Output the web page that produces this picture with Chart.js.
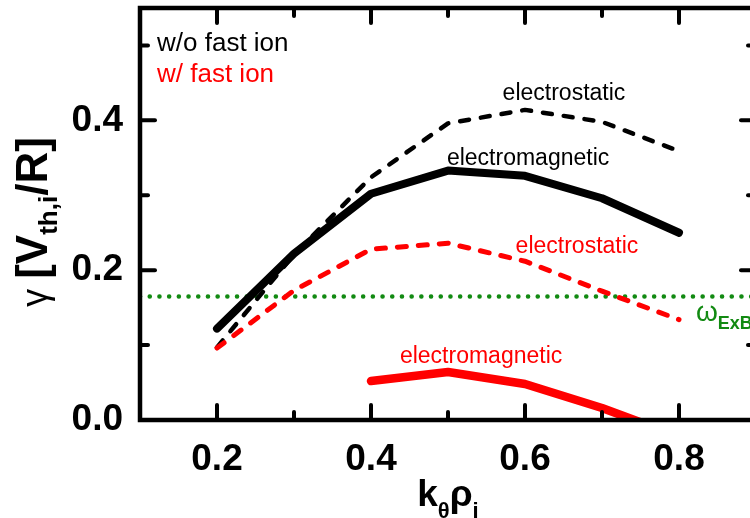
<!DOCTYPE html>
<html>
<head>
<meta charset="utf-8">
<script src="https://cdn.jsdelivr.net/npm/chart.js@4.4.1/dist/chart.umd.min.js"></script>
<style>
  html, body { margin: 0; padding: 0; background: #fff; overflow: hidden; }
  .wrap { width: 750px; height: 518px; overflow: hidden; }
</style>
</head>
<body>
<div class="wrap"><canvas id="growthChart" width="760" height="518"></canvas></div>
<script>
// values
const kRho = [0.2, 0.3, 0.4, 0.5, 0.6, 0.7, 0.8];
const esNoFast = [0.097, 0.221, 0.324, 0.396, 0.414, 0.398, 0.359];
const emNoFast = [0.122, 0.222, 0.302, 0.333, 0.326, 0.296, 0.250];
const esFast = [0.096, 0.173, 0.228, 0.236, 0.212, 0.172, 0.134];
const kRhoEmFast = [0.4, 0.5, 0.6, 0.7, 0.8];
const emFast = [0.052, 0.064, 0.048, 0.016, -0.022];
const exbX = [0.1, 0.9];
const exbY = [0.165, 0.165];

const xMajor = [0.2, 0.4, 0.6, 0.8];
const xMinor = [0.3, 0.5, 0.7];
const yMajor = [0.0, 0.2, 0.4];
const yMinor = [0.1, 0.3, 0.5];

const RED = '#ff0000';
const GREEN = '#128a12';
const FONT = '"Liberation Sans", Arial, sans-serif';

const pts = (xs, ys) => xs.map((x, i) => ({x: x, y: ys[i]}));
const near = (list, v) => list.some(t => Math.abs(t - v) < 1e-6);

// text notes, placed in data units
const notes = [
  {text: 'electrostatic', x: 0.6506, y: 0.4267, color: '#000', align: 'center'},
  {text: 'electromagnetic', x: 0.604, y: 0.341, color: '#000', align: 'center'},
  {text: 'electrostatic', x: 0.6675, y: 0.2227, color: RED, align: 'center'},
  {text: 'electromagnetic', x: 0.543, y: 0.076, color: RED, align: 'center'},
  {text: 'w/o fast ion', x: 0.1221, y: 0.493, color: '#000', align: 'left', size: 26},
  {text: 'w/ fast ion', x: 0.1221, y: 0.4507, color: RED, align: 'left', size: 26}
];

// measure a run of text pieces (some subscripted)
function measureRich(ctx, segs) {
  let total = 0;
  segs.forEach(s => { ctx.font = s.font; s.w = ctx.measureText(s.t).width + (s.gap || 0); total += s.w; });
  return total;
}

const framePlugin = {
  id: 'frame',
  afterDraw(chart) {
    const ctx = chart.ctx;
    const a = chart.chartArea;
    const xs = chart.scales.x, ys = chart.scales.y;
    ctx.save();
    ctx.setTransform(1, 0, 0, 1, 0, 0);
    ctx.strokeStyle = '#000';
    ctx.lineCap = 'round';
    ctx.lineWidth = 4;
    // ticks pointing inward on all four sides
    const tick = (x1, y1, x2, y2) => { ctx.beginPath(); ctx.moveTo(x1, y1); ctx.lineTo(x2, y2); ctx.stroke(); };
    xMajor.concat(xMinor).forEach(v => {
      const px = xs.getPixelForValue(v);
      const len = near(xMajor, v) ? 15 : 8;
      tick(px, a.bottom, px, a.bottom - len);
      tick(px, a.top, px, a.top + len);
    });
    yMajor.concat(yMinor).forEach(v => {
      const py = ys.getPixelForValue(v);
      const len = near(yMajor, v) ? 15 : 8;
      tick(a.left, py, a.left + len, py);
      tick(a.right, py, a.right - len, py);
    });
    ctx.lineWidth = 4.5;
    ctx.lineCap = 'butt';
    ctx.strokeRect(a.left, a.top, a.right - a.left, a.bottom - a.top);

    // notes
    ctx.textBaseline = 'alphabetic';
    notes.forEach(n => {
      ctx.fillStyle = n.color;
      ctx.textAlign = n.align;
      ctx.font = (n.size || 23) + 'px ' + FONT;
      ctx.fillText(n.text, xs.getPixelForValue(n.x), ys.getPixelForValue(n.y));
    });
    // omega ExB label
    ctx.fillStyle = GREEN;
    ctx.textAlign = 'left';
    const ox = xs.getPixelForValue(0.822), oy = ys.getPixelForValue(0.132);
    ctx.font = '28px ' + FONT;
    ctx.fillText('ω', ox, oy);
    const ow = ctx.measureText('ω').width;
    ctx.font = 'bold 18px ' + FONT;
    ctx.fillText('ExB', ox + ow, oy + 8);

    // x axis title
    ctx.fillStyle = '#000';
    ctx.textAlign = 'left';
    const xt = [
      {t: 'k', font: 'bold 37px ' + FONT},
      {t: 'θ', font: 'bold 22px ' + FONT, dy: 12},
      {t: 'ρ', font: 'bold 37px ' + FONT},
      {t: 'i', font: 'bold 22px ' + FONT, dy: 12}
    ];
    let cx = (a.left + a.right) / 2 - measureRich(ctx, xt) / 2;
    xt.forEach(s => {
      ctx.font = s.font;
      ctx.fillText(s.t, cx, 506 + (s.dy || 0));
      cx += s.w;
    });

    // y axis title, reading bottom to top
    const yt = [
      {t: 'γ', font: '36px ' + FONT, gap: 10},
      {t: '[V', font: 'bold 44px ' + FONT},
      {t: 'th,i', font: 'bold 26px ' + FONT, dy: 10},
      {t: '/R]', font: 'bold 44px ' + FONT}
    ];
    let cy = 222 + measureRich(ctx, yt) / 2;
    yt.forEach(s => {
      ctx.save();
      ctx.translate(47 + (s.dy || 0), cy);
      ctx.rotate(-Math.PI / 2);
      ctx.font = s.font;
      ctx.fillText(s.t, 0, 0);
      ctx.restore();
      cy -= s.w;
    });
    ctx.restore();
  }
};

const lineSet = (data, color, width, dash, order) => ({
  data: data,
  borderColor: color,
  backgroundColor: color,
  borderWidth: width,
  borderDash: dash,
  borderCapStyle: 'round',
  borderJoinStyle: 'round',
  pointRadius: 0,
  fill: false,
  tension: 0,
  clip: 0,
  order: order
});

new Chart(document.getElementById('growthChart'), {
  type: 'line',
  data: {
    datasets: [
      lineSet(pts(kRhoEmFast, emFast), RED, 8.5, [], 1),
      lineSet(pts(kRho, esFast), RED, 5, [9, 12], 2),
      lineSet(pts(kRho, emNoFast), '#000', 8, [], 3),
      lineSet(pts(kRho, esNoFast), '#000', 4.5, [9, 12], 4),
      lineSet(pts(exbX, exbY), GREEN, 4.5, [0.1, 9.6], 5)
    ]
  },
  options: {
    responsive: false,
    animation: false,
    devicePixelRatio: 1,
    layout: {padding: {left: 0, top: 8, right: 4, bottom: 0}},
    plugins: {legend: {display: false}, tooltip: {enabled: false}},
    scales: {
      x: {
        type: 'linear',
        min: 0.1,
        max: 0.9,
        grid: {display: false, drawTicks: false},
        border: {display: false},
        afterFit: s => { s.height = 98; s.paddingLeft = 0; s.paddingRight = 0; },
        ticks: {
          stepSize: 0.1,
          autoSkip: false,
          maxRotation: 0,
          padding: 18,
          color: '#000',
          font: {family: FONT, size: 37, weight: 'bold'},
          callback: v => near(xMajor, v) ? v.toFixed(1) : ''
        }
      },
      y: {
        min: 0,
        max: 0.55,
        grid: {display: false, drawTicks: false},
        border: {display: false},
        afterFit: s => { s.width = 140; s.paddingTop = 0; s.paddingBottom = 0; },
        ticks: {
          stepSize: 0.1,
          autoSkip: false,
          padding: 17,
          color: '#000',
          font: {family: FONT, size: 37, weight: 'bold'},
          callback: v => near(yMajor, v) ? v.toFixed(1) : ''
        }
      }
    }
  },
  plugins: [framePlugin]
});
</script>
</body>
</html>
